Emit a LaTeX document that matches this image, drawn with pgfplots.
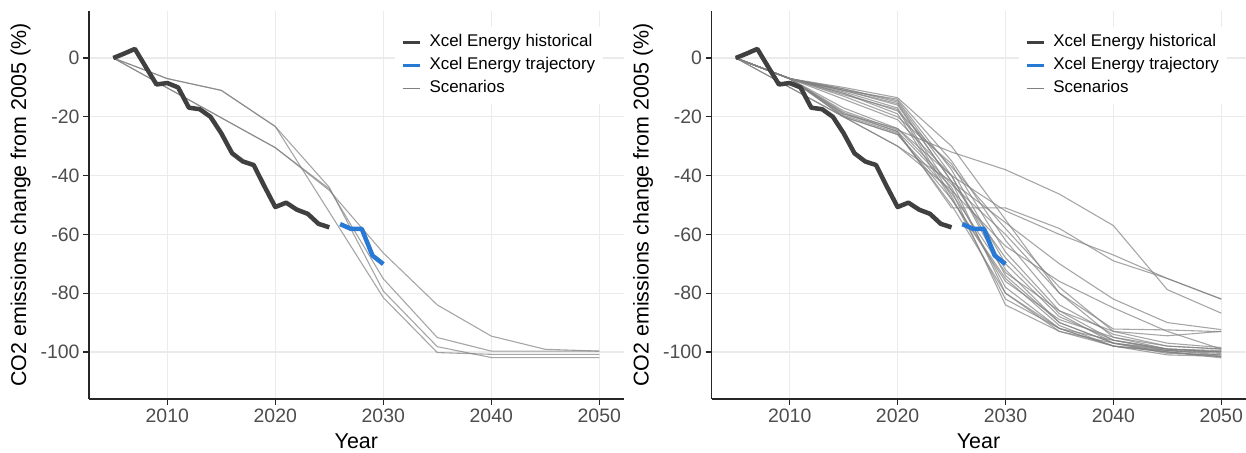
\documentclass[border=0pt]{standalone}
\usepackage{fontspec}
\setmainfont{Liberation Sans}
\usepackage{pgfplots}
\pgfplotsset{compat=1.18}
\definecolor{histcol}{RGB}{64,64,64}
\definecolor{trajcol}{RGB}{40,121,214}
\definecolor{scenc}{RGB}{128,128,128}
\definecolor{gridc}{RGB}{235,235,235}
\definecolor{tickc}{RGB}{77,77,77}
\pgfplotsset{
 panel/.style={
  scale only axis, width=534.6bp, height=388bp, anchor=south west,
  xmin=2002.75, xmax=2052.25, ymin=-116, ymax=16,
  axis x line*=bottom, axis y line*=left,
  axis line style={-, black!85, line width=1.1bp},
  xtick={2010,2020,2030,2040,2050}, xticklabels={2010,2020,2030,2040,2050},
  ytick={-100,-80,-60,-40,-20,0}, yticklabels={-100,-80,-60,-40,-20,0},
  tick align=outside, major tick length=6bp,
  tick style={black!85, line width=1.1bp},
  grid=major, major grid style={gridc, line width=1.1bp},
  ticklabel style={font=\fontsize{19.5}{23}\selectfont, text=tickc},
  xlabel={Year}, ylabel={CO2 emissions change from 2005 (\%)},
  label style={font=\fontsize{21.5}{25}\selectfont},
  xlabel style={at={(axis description cs:0.5,-0.128)}, anchor=base},
  ylabel style={at={(axis description cs:-0.128,0.5)}, anchor=center},
  legend style={anchor=north west, draw=none, fill=white,
    inner xsep=6bp, inner ysep=5bp, row sep=2.5bp, column sep=6bp,
    font=\fontsize{17}{20}\selectfont,
    nodes={inner sep=2bp, text height=12.5bp, text depth=4bp}},
  legend cell align=left,
 },
 scen/.style={scenc, line width=1.1bp, opacity=0.7, forget plot},
 histl/.style={histcol, line width=4.5bp, line join=round, forget plot},
 trajl/.style={trajcol, line width=4.5bp, line join=round, forget plot},
}
\newcommand{\histdata}{\addplot[histl] coordinates {(2005,0)(2006,1.5)(2007,3.1)(2008,-3)(2009,-9)(2010,-8.5)(2011,-10)(2012,-16.9)(2013,-17.4)(2014,-20)(2015,-25.6)(2016,-32.4)(2017,-35.2)(2018,-36.4)(2019,-43.7)(2020,-50.7)(2021,-49.2)(2022,-51.6)(2023,-53)(2024,-56.4)(2025,-57.6)};
\addplot[trajl] coordinates {(2026,-56.5)(2027,-58.1)(2028,-58.1)(2029,-67.2)(2030,-70.1)};}
\newcommand{\legendentries}{%
\addlegendimage{histcol, line width=3.5bp}\addlegendentry{Xcel Energy historical}
\addlegendimage{trajcol, line width=3.5bp}\addlegendentry{Xcel Energy trajectory}
\addlegendimage{scenc, line width=1.1bp}\addlegendentry{Scenarios}}
\begin{document}
\begin{tikzpicture}
\useasboundingbox (0,0) rectangle (1246bp,453bp);
\begin{axis}[panel, at={(89bp,54bp)}, legend style={at={(0.572,0.958)}}]
\addplot[scen] coordinates {(2005,0)(2010,-7)(2015,-11)(2020,-23.3)(2025,-44)(2030,-79.3)(2035,-98.2)(2040,-101.9)(2045,-101.9)(2050,-101.9)};
\addplot[scen] coordinates {(2005,0)(2010,-7)(2015,-11)(2020,-23.3)(2030,-81.5)(2035,-100.2)(2040,-100.8)(2045,-100.8)(2050,-100.8)};
\addplot[scen] coordinates {(2005,0)(2020,-30.5)(2025,-45)(2030,-66.3)(2035,-84)(2040,-94.6)(2045,-99.1)(2050,-99.7)};
\addplot[scen] coordinates {(2005,0)(2020,-30.5)(2025,-44.5)(2030,-75.1)(2035,-95.1)(2040,-99.7)(2045,-99.7)(2050,-99.7)};
\histdata
\legendentries
\end{axis}
\begin{axis}[panel, at={(711.5bp,54bp)}, width=534bp, legend style={at={(0.575,0.958)}}]
\addplot[scen] coordinates {(2005,0)(2010,-7)(2015,-10.5)(2020,-14.5)(2025,-38)(2030,-70)(2035,-88)(2040,-96)(2045,-99)(2050,-100)};
\addplot[scen] coordinates {(2005,0)(2010,-7)(2015,-10.5)(2020,-15)(2025,-40)(2030,-74)(2035,-90)(2040,-97)(2045,-99.5)(2050,-101)};
\addplot[scen] coordinates {(2005,0)(2010,-7)(2015,-11)(2020,-14)(2025,-35)(2030,-62)(2035,-84)(2040,-94)(2045,-98)(2050,-99)};
\addplot[scen] coordinates {(2005,0)(2010,-7)(2015,-11)(2020,-16)(2025,-42)(2030,-80)(2035,-92)(2040,-98)(2045,-100)(2050,-101.5)};
\addplot[scen] coordinates {(2005,0)(2010,-7)(2015,-11.5)(2020,-17)(2025,-45)(2030,-84)(2035,-93)(2040,-97)(2045,-99)(2050,-100)};
\addplot[scen] coordinates {(2005,0)(2010,-7)(2015,-12)(2020,-18)(2025,-37)(2030,-58)(2035,-78)(2040,-93)(2045,-97)(2050,-98.5)};
\addplot[scen] coordinates {(2005,0)(2010,-7)(2015,-12)(2020,-19)(2025,-48)(2030,-76)(2035,-89)(2040,-95)(2045,-98)(2050,-99)};
\addplot[scen] coordinates {(2005,0)(2010,-7)(2015,-13)(2020,-20)(2025,-36)(2030,-66)(2035,-86)(2040,-96)(2045,-99.5)(2050,-100.5)};
\addplot[scen] coordinates {(2005,0)(2010,-7)(2015,-19)(2020,-24)(2025,-40)(2030,-72)(2035,-90)(2040,-97)(2045,-100)(2050,-101.5)};
\addplot[scen] coordinates {(2005,0)(2010,-7)(2015,-19)(2020,-25)(2025,-44)(2030,-78)(2035,-92)(2040,-98)(2045,-99.5)(2050,-100)};
\addplot[scen] coordinates {(2005,0)(2010,-7)(2015,-19.5)(2020,-25.5)(2025,-50)(2030,-80)(2035,-93)(2040,-98)(2045,-100)(2050,-102)};
\addplot[scen] coordinates {(2005,0)(2010,-7)(2015,-20)(2020,-26)(2025,-46)(2030,-73)(2035,-86)(2040,-93)(2045,-94.5)(2050,-93)};
\addplot[scen] coordinates {(2005,0)(2010,-7)(2015,-18)(2020,-24.5)(2025,-32)(2030,-38)(2035,-46.3)(2040,-57)(2045,-78.8)(2050,-86.8)};
\addplot[scen] coordinates {(2005,0)(2010,-7)(2015,-18.5)(2020,-25)(2025,-51)(2030,-51)(2035,-58)(2040,-69)(2045,-75)(2050,-82)};
\addplot[scen] coordinates {(2005,0)(2010,-10)(2015,-20)(2020,-30)(2025,-42)(2030,-56)(2035,-70)(2040,-82)(2045,-90)(2050,-92.4)};
\addplot[scen] coordinates {(2005,0)(2010,-10)(2015,-20)(2020,-30)(2025,-45)(2030,-64)(2035,-76)(2040,-85)(2045,-93)(2050,-99)};
\addplot[scen] coordinates {(2005,0)(2010,-7)(2015,-17)(2020,-24)(2025,-43)(2030,-60)(2035,-80)(2040,-92.2)(2045,-92.5)(2050,-93.1)};
\addplot[scen] coordinates {(2005,0)(2010,-7)(2015,-14)(2020,-21)(2025,-40)(2030,-52)(2035,-60)(2040,-67)(2045,-75)(2050,-82)};
\addplot[scen] coordinates {(2005,0)(2010,-7)(2015,-10)(2020,-13.5)(2025,-30)(2030,-55)(2035,-80)(2040,-95)(2045,-99)(2050,-100)};
\addplot[scen] coordinates {(2005,0)(2010,-7)(2015,-11)(2020,-15.5)(2025,-42)(2030,-68)(2035,-87)(2040,-97)(2045,-100.5)(2050,-101)};
\addplot[scen] coordinates {(2005,0)(2010,-7)(2015,-12.5)(2020,-17.5)(2025,-47)(2030,-82)(2035,-92)(2040,-96)(2045,-99)(2050,-99.5)};
\addplot[scen] coordinates {(2005,0)(2010,-7)(2015,-20)(2020,-26)(2025,-48)(2030,-75)(2035,-91)(2040,-98)(2045,-101)(2050,-101.5)};
\histdata
\legendentries
\end{axis}
\end{tikzpicture}
\end{document}
